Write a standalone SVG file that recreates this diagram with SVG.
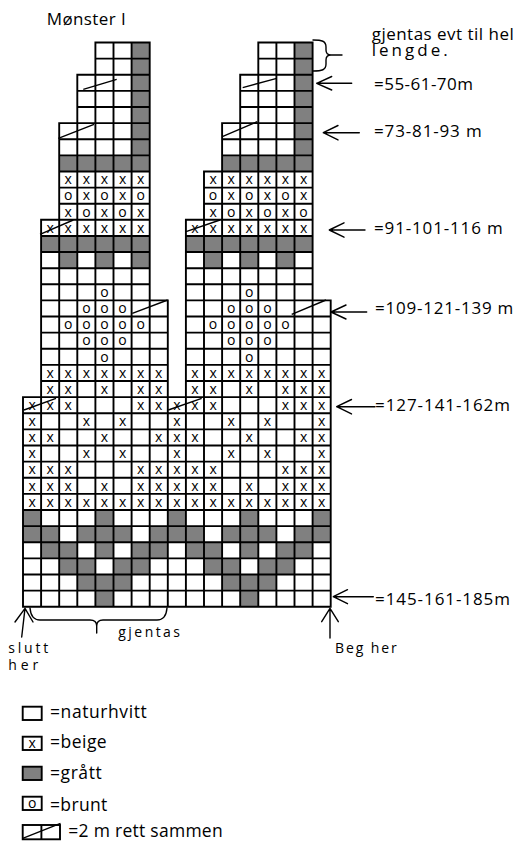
<svg xmlns="http://www.w3.org/2000/svg" width="517" height="850" viewBox="0 0 517 850">
<style>
text{font-family:'Open Sans','Noto Sans',sans-serif;fill:#000}
.s{font-size:14px;text-anchor:middle}
.lab{font-size:17px}
.sm{font-size:14px}
.leg{font-size:17.5px}
.grid{fill:none;stroke:#000;stroke-width:1.9;stroke-linecap:square}
.gr{fill:#808080}
.d{fill:none;stroke:#000;stroke-width:1.4}
.ar{fill:none;stroke:#000;stroke-width:1.4;stroke-linecap:round;stroke-linejoin:round}
</style>
<rect width="517" height="850" fill="#fff"/>
<text class="lab" x="46.7" y="25" textLength="79" lengthAdjust="spacing">Mønster I</text>

<g id="chart">
<g id="gray">
<rect class="gr" x="131.6" y="42.5" width="18.1" height="112.84"/>
<rect class="gr" x="294.5" y="42.5" width="18.1" height="112.84"/>
<rect class="gr" x="59.2" y="155.34" width="90.5" height="16.12"/>
<rect class="gr" x="222.1" y="155.34" width="90.5" height="16.12"/>
<rect class="gr" x="41.1" y="235.94" width="108.6" height="16.12"/>
<rect class="gr" x="185.9" y="235.94" width="126.7" height="16.12"/>
<rect class="gr" x="59.2" y="252.06" width="18.1" height="16.12"/>
<rect class="gr" x="95.4" y="252.06" width="18.1" height="16.12"/>
<rect class="gr" x="131.6" y="252.06" width="18.1" height="16.12"/>
<rect class="gr" x="204" y="252.06" width="18.1" height="16.12"/>
<rect class="gr" x="240.2" y="252.06" width="18.1" height="16.12"/>
<rect class="gr" x="276.4" y="252.06" width="18.1" height="16.12"/>
<rect class="gr" x="23" y="509.98" width="18.1" height="16.12"/>
<rect class="gr" x="95.4" y="509.98" width="18.1" height="16.12"/>
<rect class="gr" x="167.8" y="509.98" width="18.1" height="16.12"/>
<rect class="gr" x="240.2" y="509.98" width="18.1" height="16.12"/>
<rect class="gr" x="312.6" y="509.98" width="18.1" height="16.12"/>
<rect class="gr" x="23" y="526.1" width="36.2" height="16.12"/>
<rect class="gr" x="77.3" y="526.1" width="54.3" height="16.12"/>
<rect class="gr" x="149.7" y="526.1" width="54.3" height="16.12"/>
<rect class="gr" x="222.1" y="526.1" width="54.3" height="16.12"/>
<rect class="gr" x="294.5" y="526.1" width="36.2" height="16.12"/>
<rect class="gr" x="41.1" y="542.22" width="36.2" height="16.12"/>
<rect class="gr" x="95.4" y="542.22" width="18.1" height="16.12"/>
<rect class="gr" x="131.6" y="542.22" width="36.2" height="16.12"/>
<rect class="gr" x="185.9" y="542.22" width="36.2" height="16.12"/>
<rect class="gr" x="240.2" y="542.22" width="18.1" height="16.12"/>
<rect class="gr" x="276.4" y="542.22" width="36.2" height="16.12"/>
<rect class="gr" x="59.2" y="558.34" width="36.2" height="16.12"/>
<rect class="gr" x="113.5" y="558.34" width="36.2" height="16.12"/>
<rect class="gr" x="204" y="558.34" width="36.2" height="16.12"/>
<rect class="gr" x="258.3" y="558.34" width="36.2" height="16.12"/>
<rect class="gr" x="77.3" y="574.46" width="54.3" height="16.12"/>
<rect class="gr" x="222.1" y="574.46" width="54.3" height="16.12"/>
<rect class="gr" x="95.4" y="590.58" width="18.1" height="16.12"/>
<rect class="gr" x="240.2" y="590.58" width="18.1" height="16.12"/>
</g>
<path id="gridlines" class="grid" d="M95.4 42.5H149.7M258.3 42.5H312.6M95.4 58.62H149.7M258.3 58.62H312.6
M77.3 74.74H149.7M240.2 74.74H312.6M77.3 90.86H149.7M240.2 90.86H312.6M77.3 106.98H149.7M240.2 106.98H312.6
M59.2 123.1H149.7M222.1 123.1H312.6M59.2 139.22H149.7M222.1 139.22H312.6M59.2 155.34H149.7M222.1 155.34H312.6
M59.2 171.46H149.7M204 171.46H312.6M59.2 187.58H149.7M204 187.58H312.6M59.2 203.7H149.7M204 203.7H312.6
M41.1 219.82H149.7M185.9 219.82H312.6M41.1 235.94H149.7M185.9 235.94H312.6M41.1 252.06H149.7M185.9 252.06H312.6
M41.1 268.18H149.7M185.9 268.18H312.6M41.1 284.3H149.7M185.9 284.3H312.6
M41.1 300.42H167.8M185.9 300.42H330.7M41.1 316.54H167.8M185.9 316.54H330.7M41.1 332.66H167.8M185.9 332.66H330.7
M41.1 348.78H167.8M185.9 348.78H330.7M41.1 364.9H167.8M185.9 364.9H330.7M41.1 381.02H167.8M185.9 381.02H330.7
M23 397.14H330.7M23 413.26H330.7M23 429.38H330.7M23 445.5H330.7M23 461.62H330.7M23 477.74H330.7M23 493.86H330.7
M23 509.98H330.7M23 526.1H330.7M23 542.22H330.7M23 558.34H330.7M23 574.46H330.7M23 590.58H330.7M23 606.7H330.7
M23 397.14V606.7M41.1 219.82V606.7M59.2 123.1V606.7M77.3 74.74V606.7M95.4 42.5V606.7M113.5 42.5V606.7
M131.6 42.5V606.7M149.7 42.5V606.7M167.8 300.42V606.7M185.9 219.82V606.7M204 171.46V606.7M222.1 123.1V606.7
M240.2 74.74V606.7M258.3 42.5V606.7M276.4 42.5V606.7M294.5 42.5V606.7M312.6 42.5V606.7M330.7 300.42V606.7"/>
<g id="decreases">
<path class="d" d="M83.3 89.3L116.7 79.3M242.7 87.7L276.7 78.3M58.3 138.3L94 124.3M222.3 136.7L257.3 121.7M40 234.3L73.3 220M186 231.7L220 220M132.3 313.3L167.7 300M291.7 314.3L326 300M24 410L56 398.3M168.3 410L201.7 398.3"/>
</g>
<g id="symbols">
<text class="s" x="68.25 86.35 104.45 122.55 140.65 213.05 231.15 249.25 267.35 285.45 303.55" y="184.26">xxxxxxxxxxx</text>
<text class="s" x="68.25 86.35 104.45 122.55 140.65 213.05 231.15 249.25 267.35 285.45 303.55" y="200.38">oxoxooxoxox</text>
<text class="s" x="68.25 86.35 104.45 122.55 140.65 213.05 231.15 249.25 267.35 285.45 303.55" y="216.5">xoxoxxoxoxo</text>
<text class="s" x="50.15 68.25 86.35 104.45 122.55 140.65 194.95 213.05 231.15 249.25 267.35 285.45 303.55" y="232.62">xxxxxxxxxxxxx</text>
<text class="s" x="104.45 249.25" y="297.1">oo</text>
<text class="s" x="86.35 104.45 122.55 231.15 249.25 267.35" y="313.22">oooooo</text>
<text class="s" x="68.25 86.35 104.45 122.55 140.65 213.05 231.15 249.25 267.35 285.45" y="329.34">oooooooooo</text>
<text class="s" x="86.35 104.45 122.55 231.15 249.25 267.35" y="345.46">oooooo</text>
<text class="s" x="104.45 249.25" y="361.58">oo</text>
<text class="s" x="50.15 68.25 86.35 104.45 122.55 140.65 158.75 194.95 213.05 231.15 249.25 267.35 285.45 303.55 321.65" y="377.7">xxxxxxxxxxxxxxx</text>
<text class="s" x="50.15 68.25 104.45 140.65 158.75 194.95 213.05 249.25 285.45 303.55 321.65" y="393.82">xxxxxxxxxxx</text>
<text class="s" x="32.05 50.15 68.25 140.65 158.75 176.85 194.95 213.05 285.45 303.55 321.65" y="409.94">xxxxxxxxxxx</text>
<text class="s" x="32.05 86.35 122.55 176.85 231.15 267.35 321.65" y="426.06">xxxxxxx</text>
<text class="s" x="32.05 50.15 104.45 158.75 176.85 194.95 249.25 303.55 321.65" y="442.18">xxxxxxxxx</text>
<text class="s" x="32.05 86.35 122.55 176.85 231.15 267.35 321.65" y="458.3">xxxxxxx</text>
<text class="s" x="32.05 50.15 68.25 140.65 158.75 176.85 194.95 213.05 285.45 303.55 321.65" y="474.42">xxxxxxxxxxx</text>
<text class="s" x="32.05 50.15 68.25 104.45 140.65 158.75 176.85 194.95 213.05 249.25 285.45 303.55 321.65" y="490.54">xxxxxxxxxxxxx</text>
<text class="s" x="32.05 50.15 68.25 86.35 104.45 122.55 140.65 158.75 176.85 194.95 213.05 231.15 249.25 267.35 285.45 303.55 321.65" y="506.66">xxxxxxxxxxxxxxxxx</text>
</g>
</g>

<g id="connectors">
<path class="ar" d="M313 40C322 40 326 41 326 47V50C326 54 328 55 331 55C328 55 326 56 326 60V64C326 70 322 71 313 71M331 55H342"/>
<path class="ar" d="M316.7 83.3H351.7M331.7 76.5L316.7 83.3L331.7 90"/>
<path class="ar" d="M323.3 132.7H359.3M338 125.5L323.3 132.7L338 139.9"/>
<path class="ar" d="M329.3 230H365M344 222.8L329.3 230L344 237.2"/>
<path class="ar" d="M331 312H366.7M346 305L331 312L346 319"/>
<path class="ar" d="M336.7 406.7H375M351.5 399.5L336.7 406.7L351.5 413.9"/>
<path class="ar" d="M333.3 596.7H373.3M347.5 589.7L333.3 596.7L347.5 603.7"/>
<path class="ar" d="M21.7 637L25 608.3M15 622L25 608.3L33 622"/>
<path class="ar" d="M330 638V608.3M321.7 621.7L330 608.3L338.3 621.7"/>
<path class="ar" d="M30 608Q31 620 40 620H90Q96.7 620 96.7 626V633M96.7 626Q96.7 620 103 620H157Q166 620 167 608"/>
</g>

<g id="labels">
<text class="lab" x="371.7" y="39.5" font-size="15" textLength="142" lengthAdjust="spacing">gjentas evt til hel</text>
<text class="lab" x="371.7" y="56" font-size="15" textLength="76" lengthAdjust="spacing">lengde.</text>
<text class="lab" x="374" y="90" textLength="99" lengthAdjust="spacing">=55-61-70m</text>
<text class="lab" x="374" y="137.3" textLength="107.7" lengthAdjust="spacing">=73-81-93 m</text>
<text class="lab" x="374" y="234" textLength="128.7" lengthAdjust="spacing">=91-101-116 m</text>
<text class="lab" x="375" y="314.3" textLength="138.3" lengthAdjust="spacing">=109-121-139 m</text>
<text class="lab" x="375" y="410.7" textLength="135" lengthAdjust="spacing">=127-141-162m</text>
<text class="lab" x="375" y="605" textLength="135" lengthAdjust="spacing">=145-161-185m</text>
<text class="sm" x="118.3" y="636.7" textLength="61.7" lengthAdjust="spacing">gjentas</text>
<text class="sm" x="8.3" y="653.3" textLength="40" lengthAdjust="spacing">slutt</text>
<text class="sm" x="8.3" y="669.8" textLength="30" lengthAdjust="spacing">her</text>
<text class="sm" x="335" y="653.3" textLength="61.7" lengthAdjust="spacing">Beg her</text>
</g>

<g id="legend">
<g id="leg-white">
<rect x="22.7" y="706.7" width="19" height="13.3" fill="#fff" stroke="#000" stroke-width="1.9"/>
<text class="leg" x="50" y="718.3" textLength="96.7" lengthAdjust="spacing">=naturhvitt</text>
</g>
<g id="leg-beige">
<rect x="22.7" y="736.7" width="19" height="13.3" fill="#fff" stroke="#000" stroke-width="1.9"/>
<text class="s" x="32.2" y="748">x</text>
<text class="leg" x="50" y="748.3" textLength="56.7" lengthAdjust="spacing">=beige</text>
</g>
<g id="leg-gray">
<rect x="22.7" y="766.7" width="19" height="13.3" fill="#808080" stroke="#000" stroke-width="1.9"/>
<text class="leg" x="50" y="779.3" textLength="51.7" lengthAdjust="spacing">=grått</text>
</g>
<g id="leg-brown">
<rect x="22.7" y="796.7" width="19" height="13.3" fill="#fff" stroke="#000" stroke-width="1.9"/>
<text class="s" x="32.2" y="808">o</text>
<text class="leg" x="50" y="810.5" textLength="57.3" lengthAdjust="spacing">=brunt</text>
</g>
<g id="leg-dec">
<rect x="22.7" y="825" width="37.3" height="14.3" fill="#fff" stroke="#000" stroke-width="1.9"/>
<path d="M41.4 825V839.3" stroke="#000" stroke-width="1.9"/>
<path class="d" d="M22.7 838.3L60.5 823.3"/>
<text class="leg" x="68.3" y="837" textLength="154.4" lengthAdjust="spacing">=2 m rett sammen</text>
</g>
</g>
</svg>
